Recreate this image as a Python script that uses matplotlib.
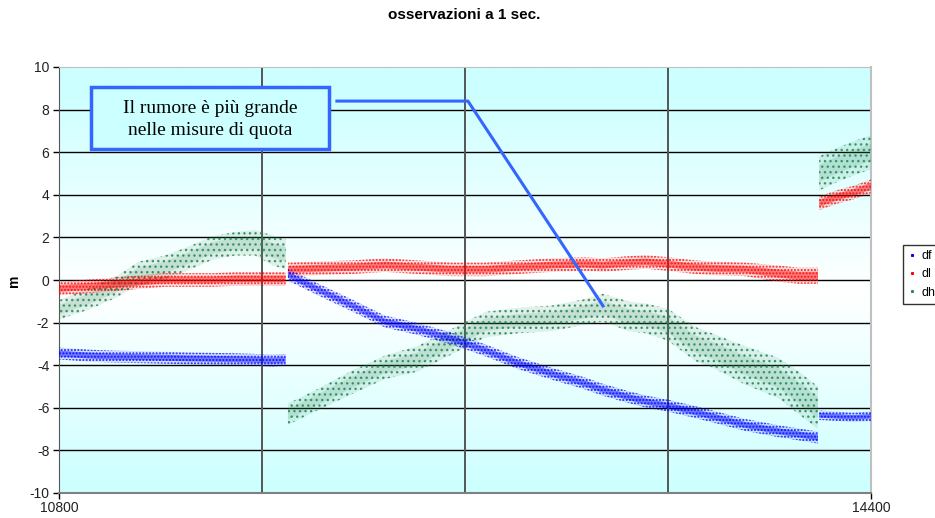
import numpy as np
import matplotlib
matplotlib.use("Agg")
import matplotlib.pyplot as plt
from matplotlib.patches import Rectangle
from matplotlib.lines import Line2D

plt.rcParams['font.family'] = ['Liberation Sans', 'DejaVu Sans']
plt.rcParams['hatch.linewidth'] = 1.0

# time (s) of the three pieces of the record
time_1 = [10800, 10930, 11050, 11150, 11270, 11370, 11480, 11580, 11670, 11745, 11805]
time_2 = [11815, 11950, 12100, 12245, 12390, 12540, 12690, 12835, 12985, 13130,
          13210, 13325, 13400, 13500, 13620, 13695, 13840, 13990, 14080, 14165]
time_3 = [14170, 14250, 14320, 14400]

# df (blue): centre of the cloud and half spread
df_1 = [-3.45, -3.55, -3.6, -3.62, -3.65, -3.68, -3.7, -3.72, -3.75, -3.78, -3.75]
df_2 = [0.25, -0.45, -1.2, -1.95, -2.3, -2.75, -3.3, -3.9, -4.4, -4.85,
        -5.15, -5.5, -5.7, -5.9, -6.2, -6.4, -6.8, -7.1, -7.25, -7.4]
df_3 = [-6.35, -6.4, -6.45, -6.4]
df_spread_1 = [0.28] * 11
df_spread_2 = [0.28] * 20
df_spread_3 = [0.22] * 4

# dl (red)
dl_1 = [-0.4, -0.3, -0.2, -0.1, 0.0, 0.0, 0.0, 0.05, 0.05, 0.05, 0.05]
dl_2 = [0.5, 0.55, 0.6, 0.7, 0.6, 0.5, 0.5, 0.6, 0.7, 0.75,
        0.7, 0.8, 0.85, 0.75, 0.6, 0.55, 0.5, 0.3, 0.2, 0.2]
dl_3 = [3.6, 3.9, 4.1, 4.4]
dl_spread_1 = [0.32] * 11
dl_spread_2 = [0.32] * 17 + [0.38, 0.38, 0.38]
dl_spread_3 = [0.32] * 4

# dh (green)
dh_1 = [-1.4, -0.9, -0.35, 0.3, 0.6, 1.0, 1.5, 1.7, 1.75, 1.4, 1.2]
dh_2 = [-6.3, -5.6, -4.8, -4.1, -3.7, -2.9, -2.1, -1.9, -1.8, -1.5,
        -1.3, -1.7, -1.8, -2.1, -3.0, -3.3, -4.0, -4.6, -5.3, -6.0]
dh_3 = [5.0, 5.4, 5.7, 6.0]
dh_spread_1 = [0.45, 0.5, 0.5, 0.55, 0.55, 0.55, 0.55, 0.55, 0.6, 0.7, 0.7]
dh_spread_2 = [0.5, 0.5, 0.55, 0.55, 0.6, 0.6, 0.6, 0.6, 0.6, 0.6,
               0.65, 0.7, 0.7, 0.75, 0.8, 0.8, 0.9, 0.95, 1.0, 1.0]
dh_spread_3 = [0.8] * 4

grid_x = [11700, 12600, 13500]
y_ticks = list(range(-10, 11, 2))

BLUE = '#0000ff'
RED = '#ff0000'
GREEN = '#2e8b57'
BOX = '#3366ff'

fig = plt.figure(figsize=(9.35, 5.18), dpi=100)
ax = fig.add_axes([59 / 935, 1 - 493 / 518, 812 / 935, 426 / 518])
ax.set_xlim(10800, 14400)
ax.set_ylim(-10, 10)

# gradient background: cyan at top and bottom, white around zero
yy = np.linspace(10, -10, 200)
w = np.clip(np.abs(yy + 0.5) / 9.5, 0, 1)
cyan = np.array([0.8, 1.0, 1.0])
white = np.array([1.0, 1.0, 1.0])
grad = white[None, :] * (1 - w[:, None]) + cyan[None, :] * w[:, None]
ax.imshow(grad[:, None, :], extent=[10800, 14400, -10, 10], aspect='auto', zorder=0)

for y in y_ticks[1:-1]:
    ax.axhline(y, color='black', lw=1.0, zorder=1)
for x in grid_x:
    ax.axvline(x, color='#555555', lw=1.4, zorder=1)


def cloud(t, c, s, color, hatch, core):
    t = np.array(t)
    c = np.array(c)
    s = np.array(s)
    ax.fill_between(t, c - s, c + s, facecolor=color, alpha=0.12, lw=0, zorder=2)
    ax.fill_between(t, c - s, c + s, facecolor='none', edgecolor=color,
                    hatch=hatch, lw=0, alpha=0.85, zorder=3)
    ax.fill_between(t, c - 0.5 * s, c + 0.5 * s, facecolor=color, alpha=core,
                    lw=0, zorder=3)


for c, s, t in [(dh_1, dh_spread_1, time_1), (dh_2, dh_spread_2, time_2), (dh_3, dh_spread_3, time_3)]:
    cloud(t, c, s, GREEN, '...', 0.15)
for c, s, t in [(dl_1, dl_spread_1, time_1), (dl_2, dl_spread_2, time_2), (dl_3, dl_spread_3, time_3)]:
    cloud(t, c, s, RED, '.....', 0.45)
for c, s, t in [(df_1, df_spread_1, time_1), (df_2, df_spread_2, time_2), (df_3, df_spread_3, time_3)]:
    cloud(t, c, s, BLUE, '.....', 0.45)

# annotation box and its pointer
ax.add_patch(Rectangle((10942, 6.13), 11997 - 10942, 9.04 - 6.13, facecolor='#ccffff',
                       edgecolor=BOX, lw=2.5, zorder=5))
ax.text(11470, 7.55, "Il rumore è più grande\nnelle misure di quota", ha='center', va='center',
        family=['Liberation Serif', 'DejaVu Serif'], fontsize=14, linespacing=1.4, zorder=6)
ax.plot([12032, 12613, 13212], [8.4, 8.4, -1.22], color=BOX, lw=2.2, zorder=6)

ax.set_yticks(y_ticks)
ax.set_yticklabels([str(v) for v in y_ticks], fontsize=10, color='#222222')
ax.set_xticks([10800, 14400])
ax.set_xticklabels(['10800', '14400'], fontsize=10, color='#222222')
ax.tick_params(axis='both', direction='out', length=4, width=1, color='black', pad=3)
ax.tick_params(axis='x', pad=2)

ax.spines['left'].set_color('#555555')
ax.spines['bottom'].set_color('#808080')
ax.spines['bottom'].set_linewidth(1.5)
ax.spines['top'].set_color('#c0c0c0')
ax.spines['right'].set_color('#c0c0c0')
ax.spines['right'].set_linewidth(1.5)

fig.text(14 / 935, 1 - 281 / 518, 'm', rotation=90, ha='center', va='center',
         fontsize=10, fontweight='bold')
fig.text(464 / 935, 1 - 15 / 518, 'osservazioni a 1 sec.', ha='center', va='center',
         fontsize=11, fontweight='bold')

handles = [Line2D([], [], ls='none', marker='s', ms=1.2, color=BLUE),
           Line2D([], [], ls='none', marker='s', ms=1.2, color=RED),
           Line2D([], [], ls='none', marker='s', ms=1.2, color=GREEN)]
leg = fig.legend(handles, ['df', 'dl', 'dh'], loc='upper left',
                 bbox_to_anchor=(903 / 935, 1 - 245 / 518), fontsize=9,
                 frameon=True, fancybox=False, handlelength=0.6, handletextpad=0.5,
                 borderpad=0.4, labelspacing=0.5, borderaxespad=0)
leg.get_frame().set_edgecolor('black')
leg.get_frame().set_linewidth(1.0)

fig.savefig('out.png', dpi=100)
